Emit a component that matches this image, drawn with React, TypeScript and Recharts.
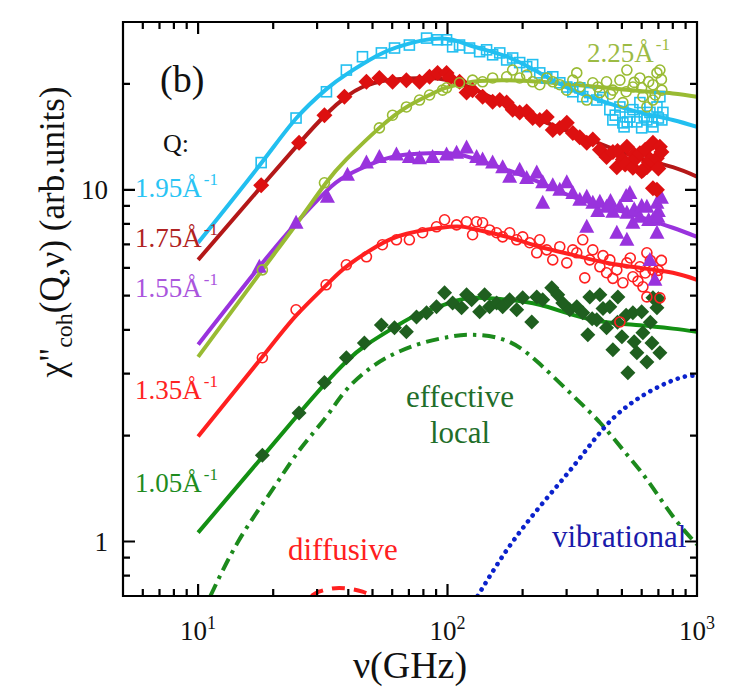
import React from 'react';
import { ComposedChart, XAxis, YAxis, Line, Scatter } from 'recharts';

const FONT = '"Liberation Serif", "Times New Roman", Times, serif';

// ---------- axes ----------
const xTicks = [6, 7, 8, 9, 10, 20, 30, 40, 50, 60, 70, 80, 90, 100, 200, 300, 400, 500, 600, 700, 800, 900, 1000];
const yTicks = [0.8, 0.9, 1, 2, 3, 4, 5, 6, 7, 8, 9, 10, 20];
const xExponentLabels: Record<number, string> = { 10: '1', 100: '2', 1000: '3' };
const yTickLabels: Record<number, string> = { 1: '1', 10: '10' };
const xDomain = [5, 1000];
const yDomain = [0.7, 30];

// ---------- fit curves (ν GHz, χ'') ----------
const fit195: number[][] = [[10, 7.07], [17.9, 11.9], [24.8, 16.0], [32.6, 19.3], [39.3, 21.3], [51.9, 24.0], [62.4, 25.4], [79.4, 26.6], [102, 26.8], [126, 25.6], [173, 23.9], [234, 21.5], [318, 19.2], [434, 17.7], [590, 16.6], [800, 15.8], [1000, 15.1]];
const fit175: number[][] = [[10, 6.32], [17.9, 10.2], [25.5, 13.6], [32.6, 16.4], [39.3, 18.4], [45.6, 19.6], [54.9, 20.4], [68.6, 20.7], [92.9, 20.7], [126, 19.4], [173, 17.4], [234, 15.8], [318, 14.5], [434, 13.3], [590, 12.3], [800, 11.6], [1000, 10.9]];
const fit155: number[][] = [[10, 3.63], [17.6, 6.04], [24.8, 8.06], [32.6, 9.9], [39.3, 10.96], [51.9, 12.0], [68.6, 12.6], [102, 12.7], [126, 12.3], [173, 11.4], [234, 10.5], [318, 9.55], [434, 8.95], [590, 8.38], [800, 7.8], [1000, 7.35]];
const fit135: number[][] = [[10, 1.99], [18.1, 3.35], [24.8, 4.4], [32.6, 5.35], [39.3, 6.05], [51.9, 6.9], [68.6, 7.5], [102, 7.85], [126, 7.75], [173, 7.35], [234, 6.89], [318, 6.53], [434, 6.2], [590, 6.0], [800, 5.81], [1000, 5.55]];
const fit105: number[][] = [[10, 1.06], [18.1, 1.74], [25.5, 2.32], [32.6, 2.83], [39.3, 3.25], [47.2, 3.62], [62.4, 4.1], [77.4, 4.45], [102, 4.77], [126, 4.93], [173, 4.87], [234, 4.71], [318, 4.41], [434, 4.2], [590, 4.12], [800, 4.03], [1000, 3.95]];
const fit225: number[][] = [[10, 3.35], [18.1, 5.92], [25.5, 8.22], [32.6, 10.47], [39.3, 12.2], [53.3, 15.0], [68.6, 17.2], [84.6, 18.6], [98, 19.5], [126, 20.3], [173, 20.5], [234, 20.3], [318, 19.9], [434, 19.5], [590, 19.1], [800, 18.8], [1000, 18.4]];

const effectiveLocal: number[][] = [[11.2, 0.7], [14.6, 1.01], [19.8, 1.4], [25.5, 1.82], [32.6, 2.26], [39.3, 2.7], [49.9, 3.14], [62.4, 3.44], [79.4, 3.67], [102, 3.82], [126, 3.87], [173, 3.72], [234, 3.2], [318, 2.6], [408, 2.18], [506, 1.82], [630, 1.5], [800, 1.18], [962, 1.01], [1000, 0.98]];
const vibrational: number[][] = [[132, 0.7], [173, 0.947], [234, 1.255], [318, 1.63], [418, 2.08], [523, 2.42], [665, 2.7], [855, 2.92], [1000, 2.96]];
const diffusive: number[][] = [[28.5, 0.7], [30.5, 0.72], [33.5, 0.733], [36.8, 0.738], [41, 0.733], [45.6, 0.72], [51, 0.698]];

// ---------- data points ----------
const pts195: number[][] = [[17.9, 11.95], [24.7, 16.0], [32.7, 19.0], [39.3, 21.9], [45.6, 23.9], [54.3, 24.5], [61.3, 25.3], [70.3, 25.8], [82.4, 27.0], [91.2, 26.7], [99.1, 26.7], [104.8, 25.5], [111.7, 25.8], [122.5, 25.3], [134.5, 24.7], [143.4, 25.0], [151.6, 24.2], [161.9, 24.5], [172.6, 23.4], [182.4, 23.7], [194.6, 23.0], [207.6, 22.4], [219.4, 22.7], [234.2, 21.5], [249.8, 20.8], [264.1, 20.96], [281.8, 20.15], [300.6, 19.6], [317.8, 19.0], [338.9, 19.5], [348.4, 18.4], [371.7, 18.9], [396.5, 18.0], [419.2, 18.3], [447.3, 16.9], [460, 15.8], [470, 16.3], [490.8, 17.2], [504.5, 15.5], [510, 15.1], [525, 15.6], [538.2, 16.1], [553.4, 16.9], [574.2, 15.6], [590.3, 17.7], [600, 15.0], [615, 16.2], [629.6, 15.8], [647.6, 16.6], [660, 15.6], [665.8, 15.1], [691, 17.2], [700, 16.0], [710, 18.4], [723, 15.8], [730, 16.6]];
const pts175: number[][] = [[17.9, 10.3], [25.4, 13.6], [32.1, 16.3], [38.6, 18.4], [47.3, 20.3], [53.3, 20.8], [60.2, 20.3], [68.4, 20.5], [77.2, 20.3], [84.7, 20.96], [91.2, 21.5], [99.1, 21.5], [102, 20.8], [111.7, 20.3], [119.2, 18.9], [126, 19.2], [138.2, 18.4], [151.6, 17.8], [161.9, 18.0], [172.6, 17.7], [182.4, 16.9], [194.6, 16.6], [207.6, 16.7], [219.4, 16.0], [234.2, 15.8], [249.8, 16.1], [264.1, 14.8], [281.8, 15.0], [300.6, 15.5], [317.8, 14.5], [338.9, 14.1], [361.4, 13.6], [382.2, 13.9], [408, 13.0], [434, 12.4], [460, 12.8], [477, 11.6], [480, 12.9], [504.5, 12.2], [515, 11.8], [523.5, 13.25], [540, 11.9], [553.4, 11.55], [560, 12.6], [570, 12.3], [590.3, 12.7], [600, 11.3], [610, 11.4], [620, 13.0], [629.6, 11.6], [640, 12.0], [650, 12.2], [665.8, 13.6], [680, 11.9], [690, 12.3], [700, 11.5], [710, 13.25], [720, 12.8], [665.8, 10.1], [691, 10.0]];
const pts155: number[][] = [[17.6, 6.04], [24.7, 8.06], [33.0, 9.55], [39.7, 11.03], [47.3, 11.95], [53.3, 12.4], [62.4, 12.6], [70.3, 12.4], [77.2, 12.3], [87.1, 12.4], [99.1, 12.6], [108.7, 12.74], [119.2, 13.2], [130.8, 12.4], [138.2, 12.2], [151.6, 11.95], [166.3, 11.6], [177.4, 10.9], [194.6, 11.4], [207.6, 10.8], [227.8, 11.2], [240.7, 10.5], [264.1, 10.3], [281.8, 10.0], [300.6, 10.5], [317.8, 9.8], [338.9, 9.37], [361.4, 9.55], [382.2, 9.19], [400, 8.7], [408, 9.25], [434, 8.95], [450, 9.3], [460, 8.66], [490.8, 8.95], [520, 9.6], [523.5, 8.6], [538.2, 9.8], [553.4, 8.06], [560, 8.8], [590.3, 8.38], [600, 9.0], [629.6, 8.95], [640, 8.2], [665.8, 8.22], [691, 9.19], [700, 8.7], [720, 9.5], [361.4, 7.85], [477, 7.55], [523.5, 7.21], [240.7, 9.19], [691, 7.55], [647.6, 6.32], [678.2, 5.55], [697, 8.38]];
const pts135: number[][] = [[18.1, 3.33], [24.7, 4.56], [32.6, 5.37], [39.3, 6.12], [47.3, 6.45], [54.8, 6.98], [62.4, 7.21], [70.3, 7.21], [79.4, 7.55], [90.3, 7.85], [97.3, 8.22], [108.7, 7.95], [119.2, 8.11], [126, 7.45], [130.8, 8.11], [138.2, 8.06], [147.4, 7.69], [157.3, 7.55], [166.3, 7.35], [177.4, 7.55], [189.3, 7.21], [200.1, 7.35], [213.4, 7.07], [227.8, 6.62], [234.2, 7.21], [249.8, 6.75], [264.1, 6.32], [281.8, 6.89], [300.6, 6.2], [317.8, 6.75], [329.6, 6.62], [348.4, 7.21], [354.9, 5.62], [371.7, 6.32], [382.2, 6.75], [408, 6.04], [420, 6.5], [434, 5.81], [447.3, 6.32], [460, 5.6], [477, 5.92], [504.5, 5.44], [523.5, 6.2], [540, 6.4], [553.4, 5.66], [580, 5.5], [590.3, 6.04], [606.9, 5.3], [620, 5.8], [629.6, 6.62], [650, 6.3], [665.8, 5.92], [691, 5.66], [700, 5.9], [720, 6.3], [629.6, 4.96], [710, 4.93], [490.8, 4.21]];
const pts105: number[][] = [[18.1, 1.76], [25.4, 2.32], [32.1, 2.83], [39.3, 3.33], [46.4, 3.67], [54.3, 4.13], [61.3, 4.05], [68.4, 3.95], [75.1, 4.35], [82.4, 4.47], [90.3, 4.65], [97.3, 5.1], [104.8, 4.77], [113.8, 4.62], [119.2, 5.03], [124.9, 4.87], [134.5, 4.5], [140.8, 5.03], [147.4, 4.65], [157.3, 4.77], [166.3, 4.65], [177.4, 4.87], [189.3, 4.56], [200.1, 4.93], [217.5, 4.21], [227.8, 4.96], [240.7, 4.87], [261.7, 5.27], [276.6, 5.03], [289.7, 4.77], [309, 4.56], [329.6, 4.65], [348.4, 4.47], [365, 3.87], [371.7, 4.96], [380, 4.3], [396.5, 4.27], [408, 5.03], [420, 4.6], [434, 4.05], [447.3, 4.65], [460, 3.51], [480, 4.2], [481.7, 4.96], [500, 3.82], [520, 4.4], [528.2, 3.02], [553.4, 4.47], [560, 3.7], [574.2, 3.44], [600, 4.5], [606.9, 3.92], [629.6, 3.24], [650, 4.2], [659.6, 3.67], [691, 4.62], [700, 4.9], [710, 3.44], [665.8, 4.93]];
const pts225: number[][] = [[18.1, 5.92], [32.1, 10.47], [53.3, 15.0], [60.2, 16.3], [68.4, 17.2], [77.2, 18.0], [84.7, 18.6], [95.5, 19.2], [99.1, 19.5], [111.7, 20.15], [126, 20.5], [138.2, 20.28], [151.6, 20.8], [172.6, 20.96], [182.4, 21.9], [194.6, 20.8], [207.6, 21.2], [219.4, 20.28], [234.2, 19.9], [249.8, 20.8], [264.1, 20.28], [281.8, 19.9], [300.6, 19.2], [317.8, 20.5], [329.6, 21.5], [338.9, 19.6], [361.4, 18.0], [382.2, 20.15], [400, 19.6], [408, 18.9], [434, 20.28], [450, 18.7], [460, 19.2], [490.8, 20.5], [504.5, 17.7], [520, 19.0], [523.5, 21.9], [553.4, 19.6], [560, 20.2], [590.3, 20.8], [600, 19.5], [606.9, 18.4], [629.6, 17.2], [640, 20.3], [665.8, 19.9], [680, 18.6], [691, 21.5], [710, 21.9], [720, 20.6], [723, 19.2], [665.8, 18.0]];

const toPts = (a: number[][]) => a.map(([x, y]) => ({ x, y }));

// ---------- colours ----------
const C195 = '#22bff0';
const C175L = '#b41818';
const C175P = '#dd1010';
const C155 = '#9933dd';
const C135 = '#ff2020';
const C105L = '#139013';
const C105P = '#1f5f1f';
const C225 = '#99bb33';
const CEFF = '#1c8a1c';
const CVIB = '#0b22cc';

// ---------- layout of the plot frame (svg px) ----------
const W = 714;
const H = 681;
const M = { top: 14, right: 25, bottom: 43, left: 50 };
const Y_AXIS_W = 65;
const X_AXIS_H = 50;
const PLOT_L = M.left + Y_AXIS_W;
const PLOT_R = W - M.right;
const PLOT_T = M.top;
const PLOT_B = H - M.bottom - X_AXIS_H;
const MAJ = 12;
const MIN = 7;

const isMajor = (v: number) => Math.abs(Math.log10(v) - Math.round(Math.log10(v))) < 1e-6;
const tickLen = (v: number) => (isMajor(v) ? MAJ : MIN);
const lx = (v: number) => PLOT_L + ((Math.log10(v) - Math.log10(xDomain[0])) / (Math.log10(xDomain[1]) - Math.log10(xDomain[0]))) * (PLOT_R - PLOT_L);
const ly = (v: number) => PLOT_B - ((Math.log10(v) - Math.log10(yDomain[0])) / (Math.log10(yDomain[1]) - Math.log10(yDomain[0]))) * (PLOT_B - PLOT_T);

// frame + inward ticks as one stroked path
const framePath = (() => {
  let d = `M${PLOT_L},${PLOT_T} L${PLOT_R},${PLOT_T} L${PLOT_R},${PLOT_B} L${PLOT_L},${PLOT_B} Z`;
  xTicks.forEach((v) => {
    const x = lx(v).toFixed(1);
    const len = tickLen(v);
    d += ` M${x},${PLOT_B} L${x},${PLOT_B - len} M${x},${PLOT_T} L${x},${PLOT_T + len}`;
  });
  yTicks.forEach((v) => {
    const y = ly(v).toFixed(1);
    const len = tickLen(v);
    d += ` M${PLOT_L},${y} L${PLOT_L + len},${y} M${PLOT_R},${y} L${PLOT_R - len},${y}`;
  });
  return d;
})();

// ---------- marker shapes ----------
const openSquare = (color: string) => (p: any) => (
  <rect x={p.cx - 5} y={p.cy - 5} width={10} height={10} fill="none" stroke={color} strokeWidth={1.6} />
);
const diamond = (color: string, r: number) => (p: any) => (
  <polygon points={`${p.cx},${p.cy - r} ${p.cx + r},${p.cy} ${p.cx},${p.cy + r} ${p.cx - r},${p.cy}`} fill={color} />
);
const triangle = (color: string) => (p: any) => (
  <polygon points={`${p.cx},${p.cy - 8} ${p.cx + 7.5},${p.cy + 6} ${p.cx - 7.5},${p.cy + 6}`} fill={color} />
);
const openCircle = (color: string) => (p: any) => (
  <circle cx={p.cx} cy={p.cy} r={5} fill="none" stroke={color} strokeWidth={1.6} />
);

// ---------- tick labels ----------
const XLabel = (props: any) => {
  const { x, payload } = props;
  const exp = xExponentLabels[payload.value];
  if (!exp) return <g />;
  return (
    <text x={x} y={PLOT_B + 44} textAnchor="middle" fontFamily={FONT} fontSize={27} fill="#111">
      10<tspan dy={-11} fontSize={18}>{exp}</tspan>
    </text>
  );
};
const YLabel = (props: any) => {
  const { y, payload } = props;
  const lab = yTickLabels[payload.value];
  if (!lab) return <g />;
  return (
    <text x={PLOT_L - 15} y={y + 9} textAnchor="end" fontFamily={FONT} fontSize={27} fill="#111">
      {lab}
    </text>
  );
};

const Sup = ({ t }: { t: string }) => (
  <tspan dx={2} dy={-12} fontSize={17}>{t}</tspan>
);

export default function App() {
  const common = { xAxisId: 'b', yAxisId: 'l', isAnimationActive: false } as const;
  return (
    <div style={{ position: 'relative', width: W, height: H, background: '#fff' }}>
      <ComposedChart width={W} height={H} margin={M}>
        <XAxis xAxisId="b" type="number" dataKey="x" scale="log" domain={xDomain} allowDataOverflow
          ticks={xTicks} interval={0} tickSize={0} tickMargin={0} tickLine={false} axisLine={false}
          tick={XLabel} height={X_AXIS_H} orientation="bottom" />
        <YAxis yAxisId="l" type="number" dataKey="y" scale="log" domain={yDomain} allowDataOverflow
          ticks={yTicks} interval={0} tickSize={0} tickMargin={0} tickLine={false} axisLine={false}
          tick={YLabel} width={Y_AXIS_W} orientation="left" />

        <Line {...common} data={toPts(effectiveLocal)} dataKey="y" type="natural" stroke={CEFF} strokeWidth={4}
          strokeDasharray="13 6 3.5 6" dot={false} activeDot={false} />
        <Line {...common} data={toPts(vibrational)} dataKey="y" type="natural" stroke={CVIB} strokeWidth={4.6}
          strokeDasharray="0.1 7.4" strokeLinecap="round" dot={false} activeDot={false} />
        <Line {...common} data={toPts(diffusive)} dataKey="y" type="natural" stroke={C135} strokeWidth={4}
          strokeDasharray="13 9" dot={false} activeDot={false} />

        <Line {...common} data={toPts(fit105)} dataKey="y" type="natural" stroke={C105L} strokeWidth={4} dot={false} activeDot={false} />
        <Line {...common} data={toPts(fit135)} dataKey="y" type="natural" stroke={C135} strokeWidth={4} dot={false} activeDot={false} />
        <Line {...common} data={toPts(fit155)} dataKey="y" type="natural" stroke={C155} strokeWidth={4} dot={false} activeDot={false} />
        <Line {...common} data={toPts(fit225)} dataKey="y" type="natural" stroke={C225} strokeWidth={4} dot={false} activeDot={false} />
        <Line {...common} data={toPts(fit175)} dataKey="y" type="natural" stroke={C175L} strokeWidth={4} dot={false} activeDot={false} />
        <Line {...common} data={toPts(fit195)} dataKey="y" type="natural" stroke={C195} strokeWidth={4} dot={false} activeDot={false} />

        <Scatter {...common} data={toPts(pts105)} shape={diamond(C105P, 7.5)} />
        <Scatter {...common} data={toPts(pts135)} shape={openCircle(C135)} />
        <Scatter {...common} data={toPts(pts155)} shape={triangle(C155)} />
        <Scatter {...common} data={toPts(pts175)} shape={diamond(C175P, 8)} />
        <Scatter {...common} data={toPts(pts195)} shape={openSquare(C195)} />
        <Scatter {...common} data={toPts(pts225)} shape={openCircle(C225)} />
      </ComposedChart>

      <svg width={W} height={H} style={{ position: 'absolute', left: 0, top: 0, pointerEvents: 'none' }}
        fontFamily={FONT}>
        <path d={framePath} fill="none" stroke="#000" strokeWidth={2.2} />
        <text x={152} y={84} fontSize={38} fill="#111">(b)</text>
        <text x={155} y={144} fontSize={26} fill="#111">Q:</text>
        <text x={127} y={189} fontSize={27} fill="#29c4f4">1.95Å<Sup t="-1" /></text>
        <text x={127} y={239} fontSize={27} fill="#b02222">1.75Å<Sup t="-1" /></text>
        <text x={127} y={289} fontSize={27} fill="#aa55dd">1.55Å<Sup t="-1" /></text>
        <text x={127} y={391} fontSize={27} fill="#ff2222">1.35Å<Sup t="-1" /></text>
        <text x={127} y={484} fontSize={27} fill="#1e8c1e">1.05Å<Sup t="-1" /></text>
        <text x={579} y={54} fontSize={27} fill="#9cbb44">2.25Å<Sup t="-1" /></text>
        <text x={452} y={399} fontSize={31} fill="#1f6e2a" textAnchor="middle">effective</text>
        <text x={452} y={435} fontSize={31} fill="#1f6e2a" textAnchor="middle">local</text>
        <text x={280} y={552} fontSize={31} fill="#ff2020">diffusive</text>
        <text x={544} y={539} fontSize={31} fill="#1a1aaa">vibrational</text>
        <text x={402} y={670} fontSize={38} fill="#111" textAnchor="middle">ν(GHz)</text>
        <text x={56} y={224} fontSize={35} fill="#111" textAnchor="middle" transform="rotate(-90 56 224)">
          χ"<tspan fontSize={24} dy={8}>coh</tspan><tspan dy={-8}>(Q,ν) (arb.units)</tspan>
        </text>
      </svg>
    </div>
  );
}
